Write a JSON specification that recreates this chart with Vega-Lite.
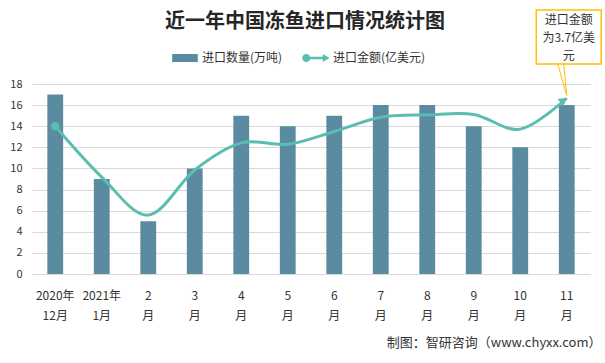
{
  "$schema": "https://vega.github.io/schema/vega-lite/v6.json",
  "width": 558,
  "height": 190,
  "autosize": {"type": "none"},
  "padding": {"left": 32, "top": 84, "right": 15, "bottom": 89},
  "background": "white",
  "title": {
    "text": "近一年中国冻鱼进口情况统计图",
    "font": "Noto Sans CJK SC",
    "fontSize": 20,
    "fontWeight": "bold",
    "color": "#262626",
    "anchor": "middle",
    "dx": -6,
    "dy": 33,
    "offset": 10
  },
  "data": {
    "values": [
      {"month": "2020年|12月", "qty": 17, "amt": 3.11},
      {"month": "2021年|1月", "qty": 9, "amt": 2.04},
      {"month": "2|月", "qty": 5, "amt": 1.24},
      {"month": "3|月", "qty": 10, "amt": 2.19},
      {"month": "4|月", "qty": 15, "amt": 2.76},
      {"month": "5|月", "qty": 14, "amt": 2.73},
      {"month": "6|月", "qty": 15, "amt": 3.0},
      {"month": "7|月", "qty": 16, "amt": 3.3},
      {"month": "8|月", "qty": 16, "amt": 3.35},
      {"month": "9|月", "qty": 14, "amt": 3.36},
      {"month": "10|月", "qty": 12, "amt": 3.05},
      {"month": "11|月", "qty": 16, "amt": 3.7}
    ]
  },
  "encoding": {
    "x": {
      "field": "month",
      "type": "nominal",
      "sort": null,
      "scale": {"paddingInner": 0.66, "paddingOuter": 0.33},
      "axis": {
        "title": "制图：智研咨询（www.chyxx.com）",
        "titleAnchor": "end",
        "titleAlign": "right",
        "titleX": 569,
        "titleFontSize": 13,
        "titleFontWeight": "normal",
        "titleColor": "#333333",
        "titlePadding": 15,
        "labelExpr": "split(datum.value, '|')",
        "labelAngle": 0,
        "labelFontSize": 12,
        "labelColor": "#333333",
        "labelLineHeight": 20,
        "labelPadding": 16,
        "ticks": false,
        "domainColor": "#d9d9d9",
        "grid": false
      }
    }
  },
  "layer": [
    {
      "mark": {"type": "bar", "color": "#5B8BA1"},
      "encoding": {
        "y": {
          "field": "qty",
          "type": "quantitative",
          "scale": {"domain": [0, 18], "nice": false},
          "axis": {
            "title": null,
            "values": [0, 2, 4, 6, 8, 10, 12, 14, 16, 18],
            "labelFontSize": 11,
            "labelColor": "#333333",
            "labelPadding": 10,
            "ticks": false,
            "domain": false,
            "gridColor": "#d9d9d9"
          }
        },
        "color": {
          "datum": "进口数量(万吨)",
          "scale": {"domain": ["进口数量(万吨)", "进口金额(亿美元)"], "range": ["#5B8BA1", "#5BBDB1"]},
          "legend": {
            "title": null,
            "orient": "none",
            "direction": "horizontal",
            "legendX": 139,
            "legendY": -40,
            "labelFontSize": 12,
            "labelColor": "#333333",
            "labelOffset": 3,
            "columnPadding": 19,
            "symbolSize": 730,
            "encode": {
              "symbols": {
                "update": {
                  "shape": {"signal": "datum.value === '进口数量(万吨)' ? 'M-0.95,-0.3H0.95V0.3H-0.95Z' : 'M-0.72,0.3A0.3,0.3,0,1,1,-0.72,-0.3A0.3,0.3,0,1,1,-0.72,0.3Z M-0.72,-0.1H0.5V-0.3L1,0L0.5,0.3V0.1H-0.72Z'"},
                  "fill": {"scale": "color", "field": "value"},
                  "stroke": {"value": "transparent"},
                  "strokeWidth": {"value": 0},
                  "opacity": {"value": 1}
                }
              }
            }
          }
        }
      }
    },
    {
      "layer": [
        {
          "mark": {"type": "line", "interpolate": "cardinal", "strokeWidth": 3},
          "encoding": {
            "y": {"field": "amt", "type": "quantitative", "scale": {"domain": [0, 4], "nice": false}, "axis": null},
            "color": {"datum": "进口金额(亿美元)"}
          }
        },
        {
          "transform": [{"filter": "datum.month === '2020年|12月'"}],
          "mark": {"type": "point", "filled": true, "size": 70, "color": "#5BBDB1", "opacity": 1},
          "encoding": {
            "y": {"field": "amt", "type": "quantitative", "scale": {"domain": [0, 4], "nice": false}, "axis": null}
          }
        },
        {
          "transform": [{"filter": "datum.month === '11|月'"}],
          "mark": {"type": "point", "shape": "triangle-right", "angle": 322, "filled": true, "size": 90, "color": "#5BBDB1", "opacity": 1, "xOffset": -3, "yOffset": 2},
          "encoding": {
            "y": {"field": "amt", "type": "quantitative", "scale": {"domain": [0, 4], "nice": false}, "axis": null}
          }
        },
        {
          "transform": [{"filter": "datum.month === '11|月'"}],
          "mark": {"type": "rule", "color": "#FFC000", "strokeWidth": 1, "xOffset": -9, "x2Offset": 0},
          "encoding": {
            "x": {"datum": "11|月"},
            "x2": {"datum": "11|月"},
            "y": {"datum": 4.42, "scale": {"domain": [0, 4], "nice": false}, "axis": null},
            "y2": {"datum": 3.76}
          }
        },
        {
          "transform": [{"filter": "datum.month === '11|月'"}],
          "mark": {"type": "rule", "color": "#FFC000", "strokeWidth": 1, "xOffset": -3, "x2Offset": 0},
          "encoding": {
            "x": {"datum": "11|月"},
            "x2": {"datum": "11|月"},
            "y": {"datum": 4.42, "scale": {"domain": [0, 4], "nice": false}, "axis": null},
            "y2": {"datum": 3.76}
          }
        },
        {
          "transform": [{"filter": "datum.month === '11|月'"}],
          "mark": {"type": "bar", "width": 65, "fill": "white", "stroke": "#FFC000", "strokeWidth": 1.5, "xOffset": 2},
          "encoding": {
            "x": {"datum": "11|月"},
            "y": {"datum": 5.56, "scale": {"domain": [0, 4], "nice": false}, "axis": null},
            "y2": {"datum": 4.42}
          }
        },
        {
          "transform": [{"filter": "datum.month === '11|月'"}],
          "mark": {"type": "text", "fontSize": 12, "fontWeight": "normal", "lineHeight": 18, "baseline": "middle", "align": "center", "color": "#333333", "xOffset": 2, "text": ["进口金额", "为3.7亿美", "元"]},
          "encoding": {
            "x": {"datum": "11|月"},
            "y": {"datum": 5.35, "scale": {"domain": [0, 4], "nice": false}, "axis": null}
          }
        }
      ]
    }
  ],
  "resolve": {"scale": {"y": "independent"}},
  "config": {
    "font": "Noto Sans CJK SC",
    "view": {"stroke": null}
  }
}
